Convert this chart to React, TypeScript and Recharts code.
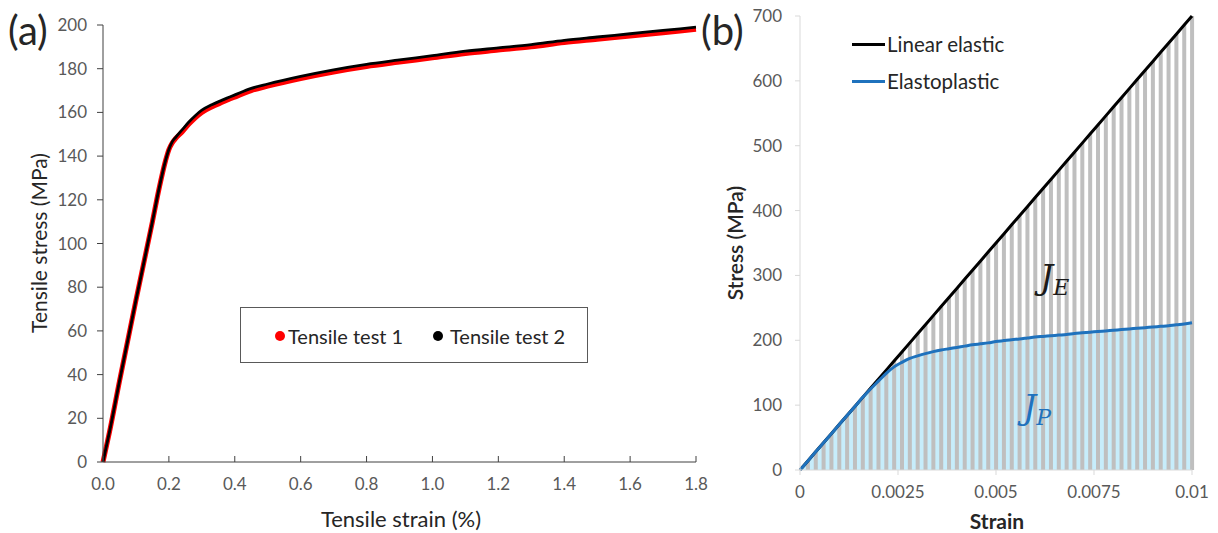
import { ComposedChart, Line, Bar, Area, XAxis, YAxis } from "recharts";

// panel (a): tensile tests
const strainA = [0, 0.02, 0.05, 0.1, 0.15, 0.17, 0.19, 0.2, 0.21, 0.22, 0.24, 0.26, 0.28, 0.3, 0.33, 0.36, 0.4, 0.45, 0.5, 0.6, 0.7, 0.8, 0.9, 1.0, 1.1, 1.2, 1.3, 1.4, 1.5, 1.6, 1.7, 1.8];
const test1 = [0, 14, 37, 74, 110, 125, 138, 143, 146, 148, 151, 154.5, 157.5, 160, 162.5, 164.5, 167, 170, 172, 175.5, 178.5, 181, 183, 185, 187, 188.5, 190, 192, 193.5, 195, 196.5, 198];
const test2 = [0, 14, 37, 74, 110, 125, 138, 143, 146.5, 148.5, 152, 155.5, 158.5, 161, 163.5, 165.5, 168, 171, 173, 176.5, 179.5, 182, 184, 186, 188, 189.5, 191, 193, 194.5, 196, 197.5, 199];
const ticksA = [0, 0.2, 0.4, 0.6, 0.8, 1.0, 1.2, 1.4, 1.6, 1.8];
const stressTicksA = [0, 20, 40, 60, 80, 100, 120, 140, 160, 180, 200];

// panel (b): linear elastic vs elastoplastic
const strainB = [
  0, 0.0002, 0.0004, 0.0006, 0.0008, 0.001, 0.0012, 0.0014, 0.0016, 0.0018,
  0.002, 0.0022, 0.0024, 0.0026, 0.0028, 0.003, 0.0032, 0.0034, 0.0036, 0.0038,
  0.004, 0.0042, 0.0044, 0.0046, 0.0048, 0.005, 0.0052, 0.0054, 0.0056, 0.0058,
  0.006, 0.0062, 0.0064, 0.0066, 0.0068, 0.007, 0.0072, 0.0074, 0.0076, 0.0078,
  0.008, 0.0082, 0.0084, 0.0086, 0.0088, 0.009, 0.0092, 0.0094, 0.0096, 0.0098, 0.01,
];
const linearElastic = [
  0, 14, 28, 42, 56, 70, 84, 98, 112, 126,
  140, 154, 168, 182, 196, 210, 224, 238, 252, 266,
  280, 294, 308, 322, 336, 350, 364, 378, 392, 406,
  420, 434, 448, 462, 476, 490, 504, 518, 532, 546,
  560, 574, 588, 602, 616, 630, 644, 658, 672, 686, 700,
];
const elastoplastic = [
  0, 14, 28, 42, 56, 70, 84, 98, 112, 125,
  137, 149, 159, 166, 172, 176, 179.5, 182.5, 185, 187,
  189, 191, 193, 194.5, 196, 198, 199.5, 201, 202, 203.5,
  205, 206, 207, 208, 209, 210.5, 211.5, 212.5, 213.5, 214.5,
  215.5, 216.5, 217.5, 218.5, 219.5, 220.5, 221.5, 222.5, 224, 225, 227,
];
const ticksB = [0, 0.0025, 0.005, 0.0075, 0.01];
const stressTicksB = [0, 100, 200, 300, 400, 500, 600, 700];

const rowsA = strainA.map((s, i) => ({ strain: s, t1: test1[i], t2: test2[i] }));
const rowsB = strainB.map((s, i) => ({ strain: s, lin: linearElastic[i], ep: elastoplastic[i] }));

const font = "Lato, 'Open Sans', sans-serif";
const tickStyle = { fontSize: 17, fill: "#595959", fontFamily: font };

const abs = (left: number, top: number, extra: React.CSSProperties = {}): React.CSSProperties => ({
  position: "absolute",
  left,
  top,
  whiteSpace: "nowrap",
  ...extra,
});

export default function App() {
  return (
    <div style={{ position: "absolute", left: 0, top: 0, width: 1218, height: 533, background: "#fff", fontFamily: font, color: "#262626" }}>
      <div style={abs(0, 0)}>
        <ComposedChart width={720} height={533} data={rowsA} margin={{ top: 25, right: 24, bottom: 41, left: 0 }}>
          <XAxis
            dataKey="strain"
            type="number"
            domain={[0, 1.8]}
            ticks={ticksA}
            tickFormatter={(v: number) => v.toFixed(1)}
            tick={tickStyle}
            height={30}
            axisLine={{ stroke: "#404040" }}
            tickLine={{ stroke: "#404040" }}
            tickSize={-6}
            tickMargin={22}
          />
          <YAxis
            type="number"
            domain={[0, 200]}
            ticks={stressTicksA}
            tick={tickStyle}
            width={103}
            axisLine={{ stroke: "#404040" }}
            tickLine={{ stroke: "#404040" }}
            tickSize={6}
            tickMargin={10}
          />
          <Line dataKey="t1" type="monotone" stroke="#ff0000" strokeWidth={5} dot={false} isAnimationActive={false} />
          <Line dataKey="t2" type="monotone" stroke="#000000" strokeWidth={2.8} dot={false} isAnimationActive={false} />
        </ComposedChart>
      </div>

      <div style={abs(700, 0)}>
        <ComposedChart width={518} height={533} data={rowsB} margin={{ top: 16, right: 26, bottom: 33, left: 0 }}>
          <XAxis
            dataKey="strain"
            type="number"
            domain={[0, 0.01]}
            ticks={ticksB}
            tick={tickStyle}
            height={30}
            axisLine={{ stroke: "#d9d9d9" }}
            tickLine={{ stroke: "#d9d9d9" }}
            tickSize={5}
            tickMargin={11}
          />
          <YAxis
            type="number"
            domain={[0, 700]}
            ticks={stressTicksB}
            tick={tickStyle}
            width={100}
            axisLine={{ stroke: "#d9d9d9" }}
            tickLine={{ stroke: "#d9d9d9" }}
            tickSize={5}
            tickMargin={13}
          />
          <Bar dataKey="lin" fill="#bfbfbf" barSize={4} isAnimationActive={false} />
          <Area dataKey="ep" type="monotone" stroke="none" fill="#45c4f2" fillOpacity={0.3} isAnimationActive={false} />
          <Line dataKey="lin" type="linear" stroke="#000000" strokeWidth={3} dot={false} isAnimationActive={false} />
          <Line dataKey="ep" type="monotone" stroke="#1f72bd" strokeWidth={3} dot={false} isAnimationActive={false} />
        </ComposedChart>
      </div>

      {/* panel letters */}
      <div style={abs(8, 5, { fontSize: 40, lineHeight: "50px" })}>(a)</div>
      <div style={abs(701, 5, { fontSize: 40, lineHeight: "50px" })}>(b)</div>

      {/* axis titles (a) */}
      <div style={abs(38, 243, { fontSize: 21, transform: "translate(-50%, -50%) rotate(-90deg)" })}>Tensile stress (MPa)</div>
      <div style={abs(401, 518, { fontSize: 22, transform: "translate(-50%, -50%)" })}>Tensile strain (%)</div>

      {/* axis titles (b) */}
      <div style={abs(734, 243, { fontSize: 21, fontWeight: 600, transform: "translate(-50%, -50%) rotate(-90deg)" })}>Stress (MPa)</div>
      <div style={abs(997, 520, { fontSize: 21, fontWeight: 700, transform: "translate(-50%, -50%)" })}>Strain</div>

      {/* legend (a) */}
      <div style={abs(240, 307, { width: 346, height: 54, border: "1px solid #595959", background: "#fff" })}>
        <div style={abs(34, 23, { width: 10, height: 10, borderRadius: 5, background: "#ff0000" })} />
        <div style={abs(47, 28, { fontSize: 20, transform: "translateY(-50%)" })}>Tensile test 1</div>
        <div style={abs(192, 23, { width: 10, height: 10, borderRadius: 5, background: "#000" })} />
        <div style={abs(209, 28, { fontSize: 20, transform: "translateY(-50%)" })}>Tensile test 2</div>
      </div>

      {/* legend (b) */}
      <div style={abs(852, 43, { width: 33, height: 3, background: "#000" })} />
      <div style={abs(887, 44, { fontSize: 20.5, transform: "translateY(-50%)" })}>Linear elastic</div>
      <div style={abs(852, 80, { width: 33, height: 3, background: "#1f72bd" })} />
      <div style={abs(887, 81, { fontSize: 20.5, transform: "translateY(-50%)" })}>Elastoplastic</div>

      {/* region labels */}
      <div style={abs(1040, 258, { fontFamily: "'DejaVu Serif', serif", fontStyle: "italic", fontSize: 33, color: "#1a1a1a" })}>
        J<span style={{ fontSize: 22, verticalAlign: "-6px" }}>E</span>
      </div>
      <div style={abs(1023, 388, { fontFamily: "'DejaVu Serif', serif", fontStyle: "italic", fontSize: 33, color: "#1f72bd" })}>
        J<span style={{ fontSize: 22, verticalAlign: "-6px" }}>P</span>
      </div>
    </div>
  );
}
